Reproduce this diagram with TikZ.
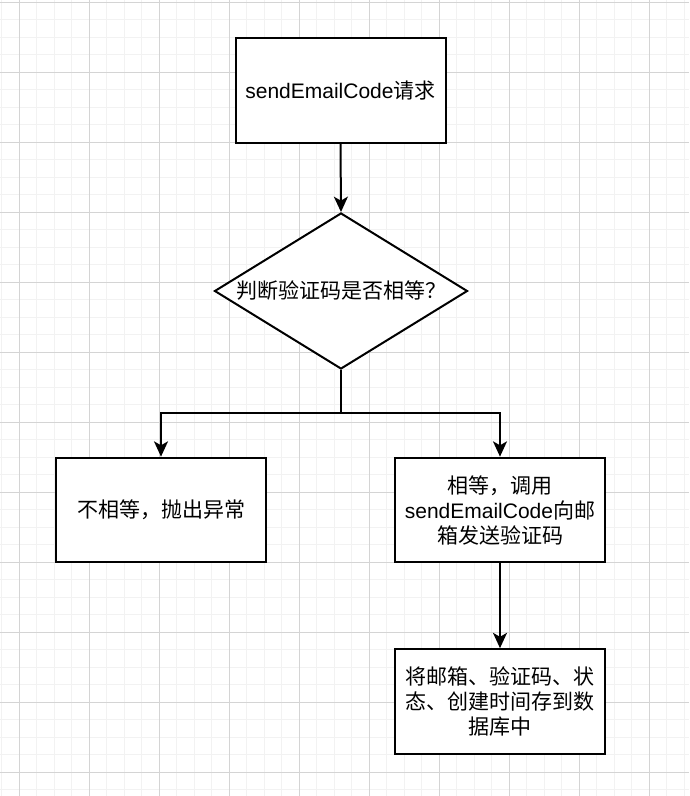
\documentclass[tikz,border=0pt]{standalone}
\usepackage{fontspec}
\setmainfont{Liberation Sans}
\newfontfamily\cjk{Noto Sans CJK SC}
\usetikzlibrary{arrows.meta,shapes.geometric}
\definecolor{gridminor}{HTML}{F2F2F2}
\definecolor{gridmajor}{HTML}{D4D4D4}
\newcommand{\cjkrow}[1]{\makebox[150pt][c]{\cjk #1}}
\tikzset{
  minorline/.style={draw=gridminor, line width=0.75pt},
  majorline/.style={draw=gridmajor, line width=0.75pt},
  procbox/.style={draw=black, line width=1.5pt, fill=white, rectangle, inner sep=0pt,
    minimum width=157.5pt, minimum height=78.5pt, text width=150pt, align=center,
    font=\fontsize{15.75pt}{18.75pt}\selectfont},
  decbox/.style={draw=black, line width=1.5pt, fill=white, diamond, aspect=1.62, inner sep=0pt,
    minimum width=189.75pt, minimum height=117pt},
  lbl/.style={inner sep=0pt, align=center, font=\fontsize{15.75pt}{18.75pt}\selectfont},
  arr/.style={draw=black, line width=1.5pt, -{Stealth[length=11.5pt, width=10.5pt, inset=3pt]}},
  conn/.style={draw=black, line width=1.5pt}
}
\begin{document}
\begin{tikzpicture}[x=0.75pt, y=-0.75pt]
\useasboundingbox (0,0) rectangle (689,796);
\fill[white] (0,0) rectangle (689,796);
\foreach \i in {0,...,39} {\draw[minorline] ({1.8+17.5*\i},0) -- ++(0,796);}
\foreach \i in {0,...,45} {\draw[minorline] (0,{2.3+17.5*\i}) -- ++(689,0);}
\foreach \i in {0,...,9} {\draw[majorline] ({19.3+70*\i},0) -- ++(0,796);}
\foreach \i in {0,...,11} {\draw[majorline] (0,{2.3+70*\i}) -- ++(689,0);}

\node[procbox] (req) at (340.5,90.5) {sendEmailCode{\cjk 请求}};
\node[decbox] (dec) at (341,291) {};
\node[lbl] (dectext) at (341,291) {{\cjk 判断验证码是否相等？}};
\node[procbox] (neq) at (161,510) {{\cjk 不相等，抛出异常}};
\node[procbox] (eq) at (500,510) {{\cjk 相等，调用}\\sendEmailCode{\cjk 向邮}\\{\cjk 箱发送验证码}};
\node[procbox] (save) at (500,701.5) {\cjkrow{将邮箱、验证码、状}\\\cjkrow{态、创建时间存到数}\\\cjkrow{据库中}};

\coordinate (split) at (341,413);
\draw[arr] (req.south) -- (dec.north);
\draw[conn] (dec.south) -- (split);
\draw[arr] (split) -| (neq.north);
\draw[arr] (split) -| (eq.north);
\draw[arr] (eq.south) -- (save.north);
\end{tikzpicture}
\end{document}
